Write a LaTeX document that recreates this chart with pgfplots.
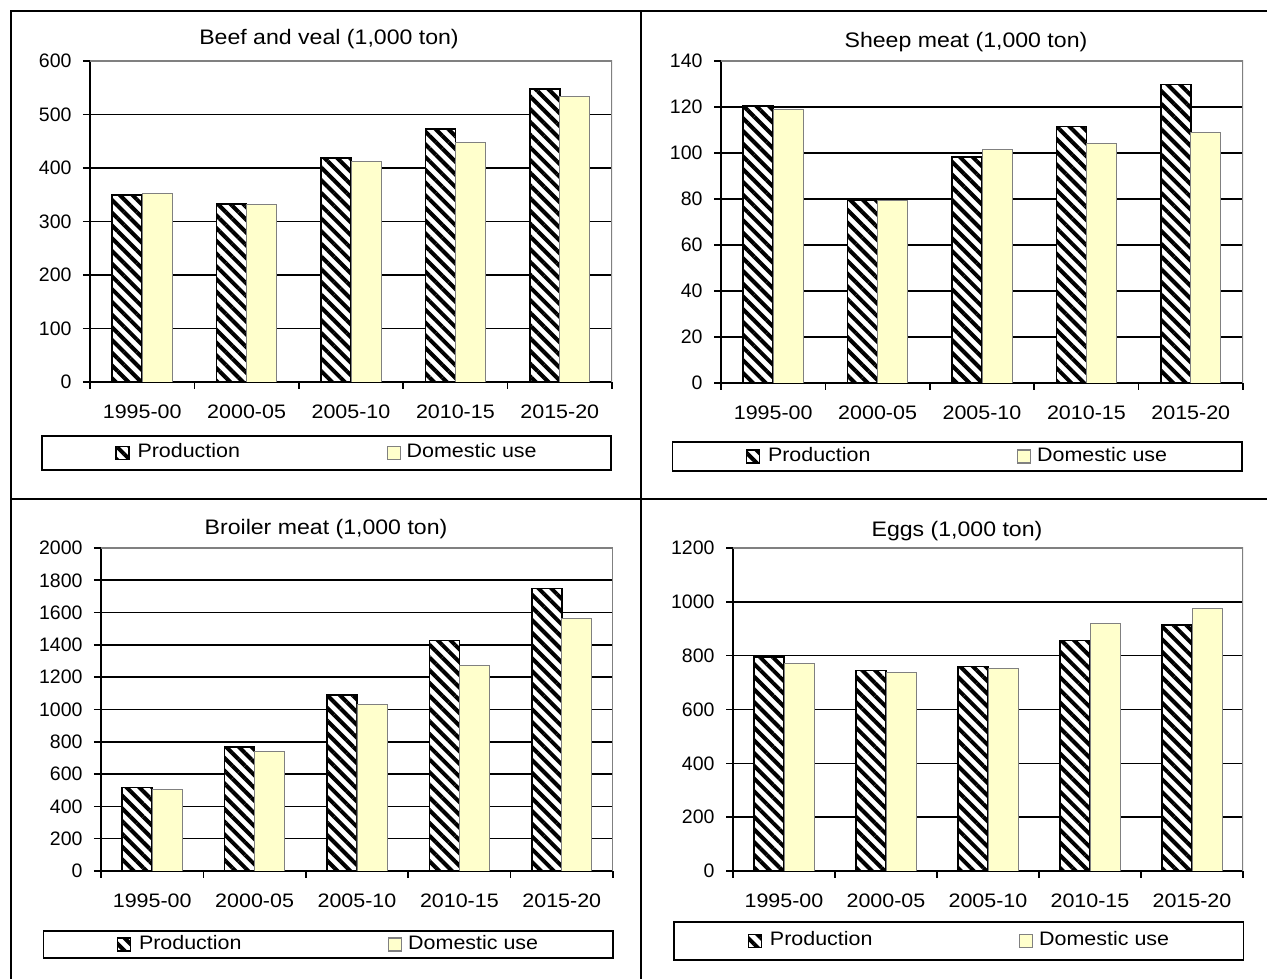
\documentclass[border=0pt]{standalone}
\usepackage{fontspec}
\setmainfont{Liberation Sans}
\usepackage{graphicx}
\usepackage{pgfplots}
\pgfplotsset{compat=1.18}
\usetikzlibrary{patterns.meta}
\definecolor{dom}{HTML}{FFFFCC}
\newcommand{\cf}{\fontsize{19.5}{23}\selectfont}
\newcommand{\tf}{\fontsize{21}{25}\selectfont}
\newcommand{\sx}[1]{\scalebox{1.1}[1]{#1}}
\pgfplotsset{
  panel/.style={
    scale only axis,
    ybar=0pt, bar width=30pt,
    xmin=0, xmax=5, ymin=0,
    xtick={0,...,5}, xticklabels={},
    extra x ticks={0.5,1.5,2.5,3.5,4.5},
    extra x tick labels={\sx{1995-00},\sx{2000-05},\sx{2005-10},\sx{2010-15},\sx{2015-20}},
    extra x tick style={major tick length=0pt, grid=none, xticklabel style={yshift=-19pt}},
    extra y tick style={grid=none},
    axis x line*=bottom, axis y line*=left,
    axis line style={-, black, line width=1.6pt},
    tick align=outside,
    major tick length=7pt,
    tick style={black, line width=1.6pt},
    ymajorgrids, major grid style={black, line width=1.6pt},
    tick label style={font=\cf},
    yticklabel style={xshift=-8pt},
    /pgf/number format/assume math mode=true,
    /pgf/number format/1000 sep={},
    title style={font=\tf, anchor=center},
    legend columns=2,
    legend style={draw=black, line width=1.6pt, anchor=center, inner xsep=73.5pt, inner ysep=8pt, column sep=0pt,
      nodes={inner sep=0pt, text height=14pt, text depth=4pt, font=\cf, anchor=west}},
    legend image code/.code={\draw[#1, line width=1.2pt] (0pt,-6.5pt) rectangle (13pt,6.5pt);},
    legend cell align=left,
  },
  prod/.style={draw=black, line width=1.6pt, preaction={fill=white}, pattern={Lines[angle=-45,distance=9pt,line width=4pt]}, pattern color=black},
  domu/.style={draw=gray, line width=0.8pt, fill=dom},
}
\newcommand{\grayframe}{\draw[gray, line width=1.2pt] (rel axis cs:0,1) -- (rel axis cs:1,1) -- (rel axis cs:1,0);}
\newcommand{\legents}{\addlegendentry{\hspace*{8pt}\makebox[249pt][l]{\sx{Production}}}\addlegendentry{\hspace*{6pt}\makebox[131pt][l]{\sx{Domestic use}}}}
\begin{document}
\begin{tikzpicture}[x=1pt,y=1pt]
\useasboundingbox (0pt,0pt) rectangle (1267pt,979pt);
% Panel 1
\begin{axis}[panel, at={(90pt,597pt)}, anchor=south west, width=522pt, height=321pt,
  ymax=600, ytick={0,100,...,500}, extra y ticks={600},
  title={\sx{Beef and veal (1,000 ton)}}, title style={at={(axis description cs:0.4579,1.0499)}},
  legend style={at={(axis description cs:0.4531,-0.2212)}, inner ysep=8pt}]
\addplot[prod] coordinates {(0.5,350) (1.5,333) (2.5,419) (3.5,473) (4.5,548)};
\addplot[domu] coordinates {(0.5,353) (1.5,332) (2.5,413) (3.5,448) (4.5,534)};
\legents
\grayframe
\end{axis}
% Panel 2
\begin{axis}[panel, at={(721pt,596pt)}, anchor=south west, width=522pt, height=322pt,
  ymax=140, ytick={0,20,...,120}, extra y ticks={140},
  title={\sx{Sheep meat (1,000 ton)}}, title style={at={(axis description cs:0.4693,1.0404)}},
  legend style={at={(axis description cs:0.4521,-0.2283)}, inner ysep=5.5pt}]
\addplot[prod] coordinates {(0.5,120.5) (1.5,79.5) (2.5,98.2) (3.5,111.5) (4.5,129.8)};
\addplot[domu] coordinates {(0.5,119.0) (1.5,79.3) (2.5,101.4) (3.5,104.2) (4.5,108.9)};
\legents
\grayframe
\end{axis}
% Panel 3
\begin{axis}[panel, at={(101pt,108pt)}, anchor=south west, width=512pt, height=323pt,
  ymax=2000, ytick={0,200,...,1800}, extra y ticks={2000},
  title={\sx{Broiler meat (1,000 ton)}}, title style={at={(axis description cs:0.4395,1.0402)}},
  legend style={at={(axis description cs:0.4434,-0.2276)}, inner ysep=4.5pt}]
\addplot[prod] coordinates {(0.5,517) (1.5,766) (2.5,1090) (3.5,1427) (4.5,1749)};
\addplot[domu] coordinates {(0.5,503) (1.5,741) (2.5,1034) (3.5,1271) (4.5,1564)};
\legents
\grayframe
\end{axis}
% Panel 4
\begin{axis}[panel, at={(733pt,108pt)}, anchor=south west, width=510pt, height=323pt,
  ymax=1200, ytick={0,200,...,1000}, extra y ticks={1200},
  title={\sx{Eggs (1,000 ton)}}, title style={at={(axis description cs:0.4392,1.0340)}},
  legend style={at={(axis description cs:0.4431,-0.2167)}, inner ysep=10pt}]
\addplot[prod] coordinates {(0.5,795) (1.5,745) (2.5,759) (3.5,856) (4.5,913)};
\addplot[domu] coordinates {(0.5,770) (1.5,736) (2.5,752) (3.5,918) (4.5,975)};
\legents
\grayframe
\end{axis}
% Outer frame and dividers
\draw[line width=1.6pt] (11pt,0pt) -- (11pt,968pt) -- (1267pt,968pt);
\draw[line width=1.6pt] (641pt,0pt) -- (641pt,968pt);
\draw[line width=1.6pt] (11pt,480pt) -- (1267pt,480pt);
\end{tikzpicture}
\end{document}
